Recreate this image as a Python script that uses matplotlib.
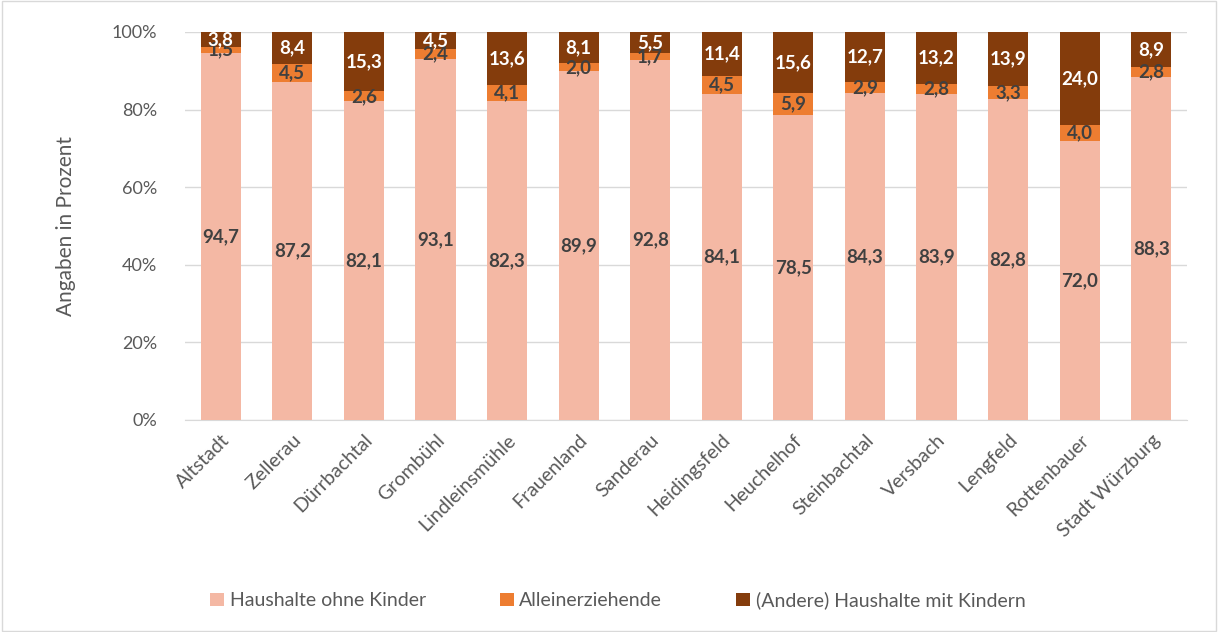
import numpy as np
import matplotlib
matplotlib.use('Agg')
import matplotlib.pyplot as plt
from matplotlib.patches import Rectangle

plt.rcParams['font.family'] = ['Lato', 'DejaVu Sans']

stadtteile = ['Altstadt', 'Zellerau', 'Dürrbachtal', 'Grombühl', 'Lindleinsmühle',
              'Frauenland', 'Sanderau', 'Heidingsfeld', 'Heuchelhof', 'Steinbachtal',
              'Versbach', 'Lengfeld', 'Rottenbauer', 'Stadt Würzburg']
ohne_kinder = [94.7, 87.2, 82.1, 93.1, 82.3, 89.9, 92.8, 84.1, 78.5, 84.3, 83.9, 82.8, 72.0, 88.3]
alleinerz = [1.5, 4.5, 2.6, 2.4, 4.1, 2.0, 1.7, 4.5, 5.9, 2.9, 2.8, 3.3, 4.0, 2.8]
mit_kindern = [3.8, 8.4, 15.3, 4.5, 13.6, 8.1, 5.5, 11.4, 15.6, 12.7, 13.2, 13.9, 24.0, 8.9]
series_names = ['Haushalte ohne Kinder', 'Alleinerziehende', '(Andere) Haushalte mit Kindern']
farben = ['#F4B8A4', '#ED7D31', '#843C0C']
label_farben = ['#404040', '#404040', 'white']

fig = plt.figure(figsize=(12.18, 6.32), dpi=100)
fig.patches.append(Rectangle((0.002, 0.002), 0.996, 0.996, transform=fig.transFigure,
                             fill=False, edgecolor='#D9D9D9', linewidth=1))
ax = fig.add_axes([185 / 1218, 1 - 420 / 632, 1002 / 1218, 388 / 632])

x = np.arange(len(stadtteile))
unten = np.zeros(len(stadtteile))
for werte, name, farbe, lf in zip([ohne_kinder, alleinerz, mit_kindern], series_names, farben, label_farben):
    werte = np.array(werte)
    ax.bar(x, werte, 0.56, bottom=unten, color=farbe, label=name, zorder=3)
    for xi, b, v in zip(x, unten, werte):
        ax.text(xi, b + v / 2, f'{v:.1f}'.replace('.', ','), ha='center', va='center',
                color=lf, fontsize=13.5, fontweight='bold', zorder=4)
    unten += werte

ax.set_ylim(0, 100)
ax.set_xlim(-0.5, len(stadtteile) - 0.5)
ax.set_yticks([0, 20, 40, 60, 80, 100])
ax.set_yticklabels([f'{v}%' for v in range(0, 101, 20)])
ax.yaxis.grid(True, color='#D9D9D9', linewidth=1, zorder=0)
ax.set_xticks(x)
ax.set_xticklabels(stadtteile, rotation=45, ha='right', rotation_mode='anchor')
ax.tick_params(axis='both', length=0, colors='#595959', labelsize=13)
ax.tick_params(axis='x', pad=8, labelsize=14)
ax.tick_params(axis='y', pad=20)
for s in ['top', 'right', 'left']:
    ax.spines[s].set_visible(False)
ax.spines['bottom'].set_color('#D9D9D9')
ax.set_ylabel('Angaben in Prozent', color='#595959', fontsize=15, labelpad=26)

ax.legend(loc='center', bbox_to_anchor=(0.432, -0.465), ncol=3, frameon=False,
          fontsize=14, labelcolor='#595959', handlelength=0.7, handleheight=0.7,
          columnspacing=3.8, handletextpad=0.3)

fig.savefig('out.png', dpi=100)
